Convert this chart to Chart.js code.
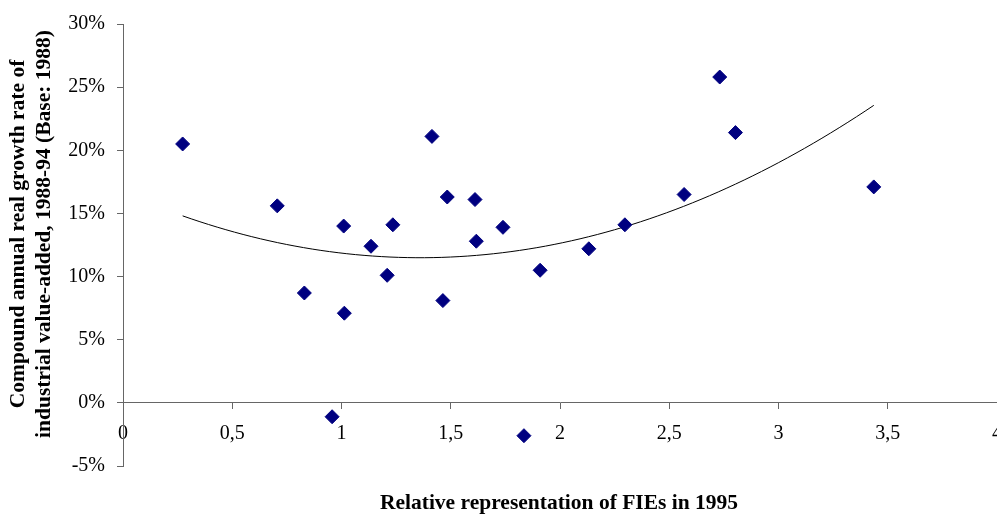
<!DOCTYPE html>
<html>
<head>
<meta charset="utf-8">
<script src="https://cdn.jsdelivr.net/npm/chart.js@4.4.1/dist/chart.umd.min.js"></script>
<style>
  html, body { margin: 0; padding: 0; background: #fff; }
  #wrap { width: 997px; height: 514px; position: relative; }
</style>
</head>
<body>
<div id="wrap"><canvas id="fieChart"></canvas></div>
<script>
// relative representation of FIEs in 1995 (x) and growth rate 1988-94 in % (y)
var fieShare = [0.273, 0.706, 0.830, 0.957, 1.010, 1.013, 1.135, 1.209, 1.235, 1.414, 1.464, 1.484,
                1.611, 1.617, 1.739, 1.835, 1.909, 2.132, 2.297, 2.568, 2.731, 2.803, 3.436];
var growthRate = [20.5, 15.6, 8.7, -1.1, 14.0, 7.1, 12.4, 10.1, 14.1, 21.1, 8.1, 16.3,
                  16.1, 12.8, 13.9, -2.6, 10.5, 12.2, 14.1, 16.5, 25.8, 21.4, 17.1];

var xTicks = [0, 0.5, 1, 1.5, 2, 2.5, 3, 3.5, 4];
var yTicks = [-5, 0, 5, 10, 15, 20, 25, 30];

var xTitle = 'Relative representation of FIEs in 1995';
var yTitle = ['Compound annual real growth rate of', 'industrial value-added, 1988-94 (Base: 1988)'];

var serif = "'Liberation Serif', 'Times New Roman', serif";
var axisGrey = '#666';

var points = [];
for (var i = 0; i < fieShare.length; i++) {
    points.push({x: fieShare[i], y: growthRate[i]});
}

// polynomial (order 2) trendline, least squares like Excel does
function quadFit(xs, ys) {
    var s = [0, 0, 0, 0, 0], t = [0, 0, 0];
    for (var i = 0; i < xs.length; i++) {
        var p = 1;
        for (var k = 0; k < 5; k++) { s[k] += p; if (k < 3) t[k] += p * ys[i]; p *= xs[i]; }
    }
    var m = [[s[0], s[1], s[2], t[0]], [s[1], s[2], s[3], t[1]], [s[2], s[3], s[4], t[2]]];
    for (var c = 0; c < 3; c++) {
        for (var r = c + 1; r < 3; r++) {
            var f = m[r][c] / m[c][c];
            for (var j = c; j < 4; j++) m[r][j] -= f * m[c][j];
        }
    }
    var b = [0, 0, 0];
    for (var r2 = 2; r2 >= 0; r2--) {
        var v = m[r2][3];
        for (var j2 = r2 + 1; j2 < 3; j2++) v -= m[r2][j2] * b[j2];
        b[r2] = v / m[r2][r2];
    }
    return b;
}

var coef = quadFit(fieShare, growthRate);
var xMin = Math.min.apply(null, fieShare), xMax = Math.max.apply(null, fieShare);
var trend = [];
for (var n = 0; n <= 80; n++) {
    var xv = xMin + (xMax - xMin) * n / 80;
    trend.push({x: xv, y: coef[0] + coef[1] * xv + coef[2] * xv * xv});
}

// axis titles drawn by hand so they sit where the original has them
var axisTitles = {
    id: 'axisTitles',
    afterDraw: function(chart) {
        var ctx = chart.ctx;
        ctx.save();
        ctx.fillStyle = '#000';
        ctx.font = 'bold 21.5px ' + serif;
        ctx.textAlign = 'center';
        ctx.textBaseline = 'alphabetic';
        ctx.fillText(xTitle, 559, 509);
        ctx.translate(0, 234);
        ctx.rotate(-Math.PI / 2);
        ctx.fillText(yTitle[0], 0, 24);
        ctx.fillText(yTitle[1], 0, 50);
        ctx.restore();
    }
};

var ctx = document.getElementById('fieChart');
var chart = new Chart(ctx, {
    type: 'scatter',
    data: {
        datasets: [{
            type: 'line',
            data: trend,
            borderColor: '#000',
            borderWidth: 1,
            pointRadius: 0,
            fill: false,
            tension: 0,
            order: 2
        }, {
            data: points,
            pointStyle: 'rectRot',
            pointRadius: 7,
            pointBackgroundColor: '#000080',
            pointBorderColor: '#000080',
            pointBorderWidth: 1,
            order: 1
        }]
    },
    options: {
        responsive: true,
        maintainAspectRatio: false,
        animation: false,
        layout: { autoPadding: false, padding: { top: 23, right: -3, bottom: 48, left: 0 } },
        plugins: { legend: { display: false }, tooltip: { enabled: false } },
        scales: {
            x: {
                type: 'linear',
                position: { y: 0 },
                min: 0,
                max: 4,
                afterBuildTicks: function(scale) {
                    scale.ticks = xTicks.map(function(v) { return {value: v}; });
                },
                afterFit: function(scale) { scale.paddingRight = 0; scale.paddingLeft = 0; },
                ticks: {
                    color: '#000',
                    font: { family: serif, size: 20 },
                    padding: 13,
                    maxRotation: 0,
                    autoSkip: false,
                    callback: function(v) { return String(v).replace('.', ','); }
                },
                grid: { drawOnChartArea: false, drawTicks: true, tickLength: 6, color: axisGrey },
                border: { display: true, color: axisGrey, width: 1 }
            },
            y: {
                type: 'linear',
                min: -5,
                max: 30,
                afterBuildTicks: function(scale) {
                    scale.ticks = yTicks.map(function(v) { return {value: v}; });
                },
                afterFit: function(scale) { scale.width = 123; },
                ticks: {
                    color: '#000',
                    font: { family: serif, size: 20 },
                    padding: 12,
                    autoSkip: false,
                    callback: function(v) { return v + '%'; }
                },
                grid: { drawOnChartArea: false, drawTicks: true, tickLength: 6, color: axisGrey },
                border: { display: true, color: axisGrey, width: 1 }
            }
        }
    },
    plugins: [axisTitles]
});
</script>
</body>
</html>
